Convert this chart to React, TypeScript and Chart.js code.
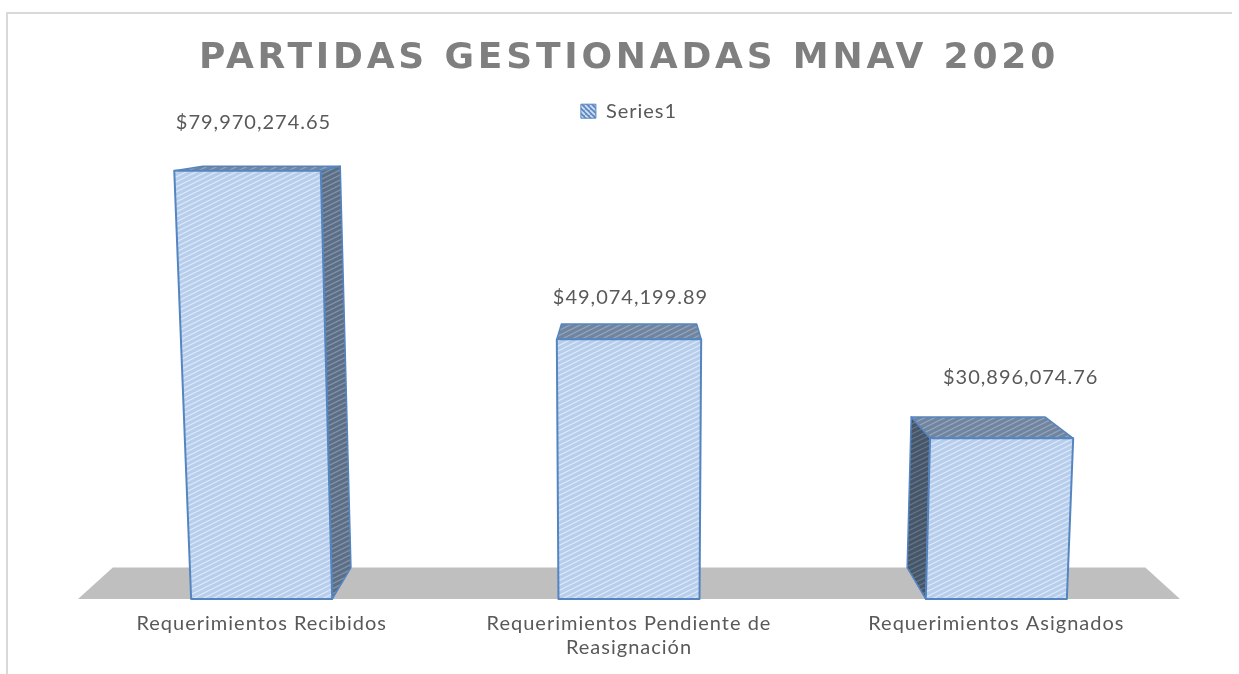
import React, { useEffect, useRef } from "react";
import { Chart, registerables } from "chart.js";

Chart.register(...registerables);

const categories = [
  "Requerimientos Recibidos",
  ["Requerimientos Pendiente de", "Reasignación"],
  "Requerimientos Asignados",
];
const seriesName = "Series1";
const seriesValues = [79970274.65, 49074199.89, 30896074.76];
const titleText = "PARTIDAS GESTIONADAS MNAV 2020";

const FONT = "Lato, Carlito, Calibri, sans-serif";
const TEXT = "#595959";
const SPACING = "1px";
const VP = { x: 630, y: 100 }; // vanishing point of the depth lines
const DEPTH = 0.063;
const KEYSTONE = 9e-5;
const labelOffsets = [
  { x: 6, y: -48 },
  { x: 1.5, y: -42 },
  { x: 19, y: -61 },
];

function hatch(bg: string, line: string) {
  const c = document.createElement("canvas");
  c.width = 10;
  c.height = 5;
  const g = c.getContext("2d")!;
  g.fillStyle = bg;
  g.fillRect(0, 0, 10, 5);
  g.strokeStyle = line;
  g.lineWidth = 1.4;
  for (const off of [-5, 0, 5]) {
    g.beginPath();
    g.moveTo(0, 5 + off);
    g.lineTo(10, off);
    g.stroke();
  }
  return g.createPattern(c, "repeat")!;
}

function swatchHatch(bg: string, line: string) {
  const c = document.createElement("canvas");
  c.width = 5;
  c.height = 5;
  const g = c.getContext("2d")!;
  g.fillStyle = bg;
  g.fillRect(0, 0, 5, 5);
  g.strokeStyle = line;
  g.lineWidth = 1.6;
  for (const off of [-5, 0, 5]) {
    g.beginPath();
    g.moveTo(0, off);
    g.lineTo(5, 5 + off);
    g.stroke();
  }
  return g.createPattern(c, "repeat")!;
}

type P = [number, number];
const back = ([x, y]: P): P => [x + (VP.x - x) * DEPTH, y + (VP.y - y) * DEPTH];

function poly(ctx: CanvasRenderingContext2D, pts: P[], fill: any, stroke: string | null, lw = 2) {
  ctx.beginPath();
  pts.forEach(([x, y], i) => (i ? ctx.lineTo(x, y) : ctx.moveTo(x, y)));
  ctx.closePath();
  ctx.fillStyle = fill;
  ctx.fill();
  if (stroke) {
    ctx.strokeStyle = stroke;
    ctx.lineWidth = lw;
    ctx.lineJoin = "round";
    ctx.stroke();
  }
}

const money = (v: number) =>
  "$" + v.toLocaleString("en-US", { minimumFractionDigits: 2, maximumFractionDigits: 2 });

const stage = {
  id: "stage",
  afterInit(chart: any) {
    const t = chart.titleBlock;
    const d = t.draw;
    t.draw = function () {
      chart.ctx.letterSpacing = "3.8px";
      d.call(t);
      chart.ctx.letterSpacing = SPACING;
    };
    chart.ctx.letterSpacing = SPACING;
  },
  beforeDraw(chart: any) {
    const ctx = chart.ctx;
    ctx.letterSpacing = SPACING;
    ctx.save();
    ctx.strokeStyle = "#d9d9d9";
    ctx.lineWidth = 2;
    ctx.beginPath();
    ctx.moveTo(7, 674);
    ctx.lineTo(7, 13);
    ctx.lineTo(1232, 13);
    ctx.stroke();
    ctx.restore();
  },
  beforeDatasetDraw(chart: any, args: any) {
    const ctx = chart.ctx;
    const { left, right, bottom } = chart.chartArea;
    ctx.save();
    poly(ctx, [[left, bottom], [right, bottom], back([right, bottom]), back([left, bottom])], "#bfbfbf", null);
    const front = hatch("#b6cdeb", "#d9e6f7");
    const top = hatch("#6f849f", "#93a3b8");
    const sideR = hatch("#5b6e85", "#8192a8");
    const sideL = hatch("#465668", "#62748a");
    const edge = "#5585c1";
    args.meta.data.forEach((bar: any, i: number) => {
      const x0 = bar.x - bar.width / 2;
      const x1 = bar.x + bar.width / 2;
      const h = bottom - bar.y;
      const skew = (x: number) => x + (x - (left + right) / 2) * h * KEYSTONE;
      const fl: P = [x0, bottom];
      const fr: P = [x1, bottom];
      const tl: P = [skew(x0), bar.y];
      const tr: P = [skew(x1), bar.y];
      poly(ctx, [tl, tr, back(tr), back(tl)], top, edge, 1.5);
      if (x1 < VP.x) poly(ctx, [tr, fr, back(fr), back(tr)], sideR, edge, 1.5);
      else if (x0 > VP.x) poly(ctx, [tl, fl, back(fl), back(tl)], sideL, edge, 1.5);
      poly(ctx, [tl, tr, fr, fl], front, edge, 2);
      const off = labelOffsets[i];
      ctx.font = `20px ${FONT}`;
      ctx.fillStyle = TEXT;
      ctx.textAlign = "center";
      ctx.textBaseline = "middle";
      ctx.fillText(money(seriesValues[i]), (tl[0] + tr[0]) / 2 + off.x, bar.y + off.y);
    });
    ctx.restore();
    return false;
  },
};

export default function App() {
  const ref = useRef<HTMLCanvasElement>(null);
  useEffect(() => {
    const chart = new Chart(ref.current!, {
      type: "bar",
      data: {
        labels: categories as any,
        datasets: [
          {
            label: seriesName,
            data: seriesValues,
            backgroundColor: swatchHatch("#5f8ac4", "#d5e2f3") as any,
            borderColor: "#5585c1",
            borderWidth: 1,
            barPercentage: 0.384,
            categoryPercentage: 1,
          },
        ],
      },
      options: {
        responsive: false,
        animation: false,
        layout: { padding: { left: 78, right: 59, top: 37, bottom: 2 } },
        plugins: {
          tooltip: { enabled: false },
          title: {
            display: true,
            text: titleText,
            color: "#7f7f7f",
            font: { family: "'DejaVu Sans', " + FONT, size: 36, weight: "bold" },
            padding: { top: 0, bottom: 11 },
          },
          legend: {
            display: true,
            position: "top",
            labels: {
              color: TEXT,
              boxWidth: 15,
              boxHeight: 14,
              padding: 10,
              font: { family: FONT, size: 20 },
            },
          },
        },
        scales: {
          x: {
            grid: { display: false, drawTicks: false },
            border: { display: false },
            ticks: {
              color: TEXT,
              padding: 12,
              maxRotation: 0,
              autoSkip: false,
              font: { family: FONT, size: 20, lineHeight: 1.225 },
            },
          },
          y: { display: false, min: 1430000, max: 87200000 },
        },
      },
      plugins: [stage as any],
    });
    return () => chart.destroy();
  }, []);
  return (
    <div style={{ position: "absolute", left: 0, top: 0, width: 1239, height: 674, background: "#fff" }}>
      <canvas ref={ref} width={1239} height={674} style={{ display: "block" }} />
    </div>
  );
}
